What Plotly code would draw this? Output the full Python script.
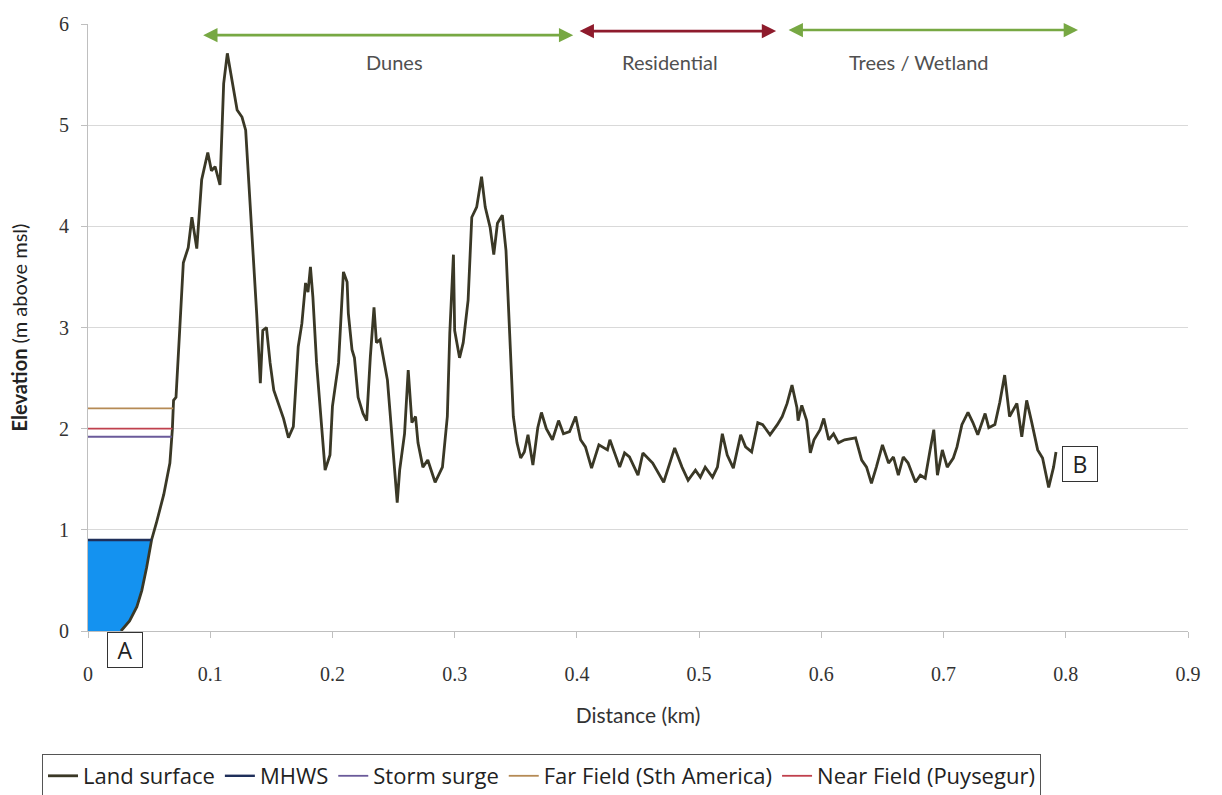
import numpy as np
import plotly.graph_objects as go

# ---- data ----
dist_km = [0.027, 0.034, 0.040, 0.044, 0.048, 0.052, 0.056, 0.062, 0.067, 0.069, 0.070, 0.072,
           0.075, 0.078, 0.082, 0.085, 0.089, 0.093, 0.098, 0.101, 0.104, 0.108, 0.111, 0.114,
           0.122, 0.126, 0.129, 0.134, 0.138, 0.141, 0.143, 0.146, 0.149, 0.152, 0.160, 0.164,
           0.168, 0.172, 0.175, 0.178, 0.180, 0.182, 0.184, 0.187, 0.191, 0.194, 0.198, 0.200,
           0.205, 0.209, 0.212, 0.213, 0.216, 0.218, 0.221, 0.225, 0.228, 0.231, 0.234, 0.236,
           0.239, 0.245, 0.247, 0.249, 0.253, 0.255, 0.259, 0.262, 0.265, 0.268, 0.270, 0.274,
           0.278, 0.284, 0.290, 0.294, 0.296, 0.299, 0.300, 0.304, 0.307, 0.311, 0.314, 0.318,
           0.322, 0.325, 0.329, 0.332, 0.335, 0.339, 0.342, 0.345, 0.348, 0.351, 0.354, 0.357,
           0.360, 0.364, 0.368, 0.371, 0.375, 0.380, 0.385, 0.389, 0.394, 0.399, 0.403, 0.407,
           0.412, 0.418, 0.425, 0.427, 0.431, 0.435, 0.439, 0.443, 0.450, 0.454, 0.462, 0.471,
           0.476, 0.480, 0.486, 0.491, 0.497, 0.501, 0.505, 0.511, 0.515, 0.519, 0.523, 0.528,
           0.534, 0.538, 0.543, 0.548, 0.552, 0.558, 0.564, 0.568, 0.572, 0.576, 0.580, 0.581,
           0.584, 0.588, 0.591, 0.594, 0.599, 0.602, 0.606, 0.610, 0.614, 0.619, 0.628, 0.633,
           0.637, 0.641, 0.645, 0.650, 0.655, 0.659, 0.663, 0.667, 0.671, 0.677, 0.681, 0.685,
           0.689, 0.692, 0.695, 0.699, 0.703, 0.708, 0.711, 0.715, 0.720, 0.724, 0.728, 0.734,
           0.737, 0.742, 0.746, 0.750, 0.754, 0.760, 0.764, 0.768, 0.772, 0.777, 0.781, 0.786,
           0.790, 0.792]
elev_m = [0.00, 0.10, 0.24, 0.40, 0.63, 0.90, 1.07, 1.35, 1.66, 1.99, 2.28, 2.31,
          2.97, 3.64, 3.79, 4.09, 3.78, 4.46, 4.73, 4.55, 4.59, 4.41, 5.41, 5.71,
          5.15, 5.08, 4.95, 3.96, 3.14, 2.45, 2.97, 3.00, 2.65, 2.38, 2.10, 1.91,
          2.02, 2.81, 3.04, 3.44, 3.35, 3.60, 3.30, 2.65, 1.99, 1.59, 1.74, 2.22,
          2.65, 3.55, 3.45, 3.14, 2.78, 2.70, 2.31, 2.15, 2.08, 2.71, 3.20, 2.85,
          2.88, 2.48, 2.18, 1.89, 1.27, 1.59, 1.95, 2.58, 2.06, 2.12, 1.86, 1.62,
          1.69, 1.47, 1.62, 2.12, 2.94, 3.72, 2.97, 2.70, 2.85, 3.27, 4.09, 4.19,
          4.49, 4.19, 3.99, 3.72, 4.03, 4.11, 3.76, 2.94, 2.12, 1.86, 1.71, 1.77,
          1.94, 1.64, 2.01, 2.16, 2.00, 1.89, 2.08, 1.95, 1.97, 2.12, 1.89, 1.82,
          1.61, 1.84, 1.79, 1.89, 1.76, 1.62, 1.76, 1.72, 1.54, 1.76, 1.66, 1.47,
          1.66, 1.81, 1.62, 1.49, 1.59, 1.52, 1.62, 1.52, 1.62, 1.95, 1.74, 1.61,
          1.94, 1.82, 1.77, 2.06, 2.04, 1.94, 2.04, 2.12, 2.25, 2.43, 2.21, 2.08,
          2.23, 2.08, 1.76, 1.89, 1.99, 2.10, 1.89, 1.95, 1.86, 1.89, 1.91, 1.69,
          1.62, 1.46, 1.62, 1.84, 1.66, 1.72, 1.54, 1.72, 1.66, 1.47, 1.54, 1.51,
          1.79, 1.99, 1.54, 1.79, 1.62, 1.71, 1.82, 2.04, 2.16, 2.06, 1.94, 2.15,
          2.01, 2.04, 2.26, 2.53, 2.12, 2.25, 1.92, 2.28, 2.07, 1.79, 1.71, 1.42,
          1.62, 1.77]

# water levels (m above msl)
level_names = ["MHWS", "Storm surge", "Far Field (Sth America)", "Near Field (Puysegur)"]
level_values = [0.90, 1.92, 2.20, 2.00]
level_colors = ["#1F2F5A", "#6A5A9A", "#B58A55", "#C0404D"]

# zones along the profile
zone_names = ["Dunes", "Residential", "Trees / Wetland"]
zone_start = [0.093, 0.401, 0.572]
zone_end = [0.397, 0.563, 0.810]
zone_label_x = [0.251, 0.476, 0.680]
zone_level = [5.89, 5.93, 5.94]
zone_colors = ["#77A843", "#8E1B2C", "#77A843"]

# axis ticks
x_tick_vals = [0, 0.1, 0.2, 0.3, 0.4, 0.5, 0.6, 0.7, 0.8, 0.9]
x_tick_text = ["0", "0.1", "0.2", "0.3", "0.4", "0.5", "0.6", "0.7", "0.8", "0.9"]
y_tick_vals = [0, 1, 2, 3, 4, 5, 6]

x = np.array(dist_km)
y = np.array(elev_m)


def first_crossing(level):
    i = int(np.argmax(y >= level))
    if i == 0:
        return x[0]
    return float(np.interp(level, [y[i - 1], y[i]], [x[i - 1], x[i]]))


fig = go.Figure()

# blue sea fill below MHWS, bounded by the land surface
mhws = level_values[0]
xc = first_crossing(mhws)
below = y < mhws
poly_x = [0.0, 0.0, xc] + list(x[below][::-1])
poly_y = [0.0, mhws, mhws] + list(y[below][::-1])
fig.add_trace(go.Scatter(x=poly_x, y=poly_y, mode="lines", fill="toself",
                         fillcolor="#1492F0", line=dict(width=0),
                         showlegend=False, hoverinfo="skip"))

fig.add_trace(go.Scatter(x=dist_km, y=elev_m, mode="lines", name="Land surface",
                         line=dict(color="#3A3826", width=2.8)))

for name, val, col in zip(level_names, level_values, level_colors):
    xe = first_crossing(val)
    fig.add_trace(go.Scatter(x=[0, xe], y=[val, val], mode="lines", name=name,
                             line=dict(color=col, width=2.4 if name == "MHWS" else 1.8)))

annotations = []
for name, xs, xe, lx, lv, col in zip(zone_names, zone_start, zone_end, zone_label_x,
                                     zone_level, zone_colors):
    annotations.append(dict(x=xe, y=lv, ax=xs, ay=lv, xref="x", yref="y",
                            axref="x", ayref="y", text="", showarrow=True,
                            arrowhead=2, arrowside="end+start", arrowsize=1.1,
                            arrowwidth=2.6, arrowcolor=col))
    annotations.append(dict(x=lx, y=5.62, xref="x", yref="y", text=name,
                            showarrow=False,
                            font=dict(family="Lato, sans-serif", size=20, color="#505050")))

box_font = dict(family="Open Sans, sans-serif", size=23, color="#222222")
annotations.append(dict(x=0.030, y=-0.19 / 6, xref="x", yref="paper", text="A",
                        xanchor="center", yanchor="middle", showarrow=False,
                        font=box_font, width=28, height=28, align="center",
                        bordercolor="#333333", borderwidth=1, borderpad=3, bgcolor="white"))
annotations.append(dict(x=0.812, y=1.65, xref="x", yref="y", text="B",
                        xanchor="center", yanchor="middle", showarrow=False,
                        font=box_font, width=28, height=28, align="center",
                        bordercolor="#333333", borderwidth=1, borderpad=3, bgcolor="white"))

fig.update_layout(
    width=1222, height=795,
    margin=dict(l=88, r=34, t=24, b=164),
    paper_bgcolor="white", plot_bgcolor="white",
    annotations=annotations,
    legend=dict(orientation="h", x=42 / 1222, y=1 - 754 / 795,
                xref="container", yref="container", xanchor="left", yanchor="top",
                bordercolor="#555555", borderwidth=1, bgcolor="white",
                font=dict(family="Open Sans, sans-serif", size=22, color="#222222"),
                itemwidth=30, tracegroupgap=0),
    xaxis=dict(range=[0, 0.9], tickmode="array", tickvals=x_tick_vals, ticktext=x_tick_text,
               showgrid=False, zeroline=False, showline=True, linecolor="#BFBFBF",
               ticks="outside", ticklen=6, tickcolor="#BFBFBF", automargin=False,
               ticklabelstandoff=19,
               tickfont=dict(family="Liberation Serif", size=20, color="#333333"),
               title=dict(text="Distance (km)", standoff=24,
                          font=dict(family="Lato, sans-serif", size=21, color="#333333"))),
    yaxis=dict(range=[0, 6], tickmode="array", tickvals=y_tick_vals,
               showgrid=True, gridcolor="#D9D9D9", gridwidth=1,
               zeroline=False, showline=True, linecolor="#BFBFBF", automargin=False,
               ticks="outside", ticklen=6, tickcolor="#BFBFBF", ticklabelstandoff=8,
               tickfont=dict(family="Liberation Serif", size=20, color="#333333"),
               title=dict(text="<b>Elevation</b> (m above msl)", standoff=26,
                          font=dict(family="Lato, sans-serif", size=20, color="#222222"))),
)

fig.write_html("out.html", config={"displayModeBar": False},
               post_script="document.body.style.margin='0';document.body.style.overflow='hidden';")
